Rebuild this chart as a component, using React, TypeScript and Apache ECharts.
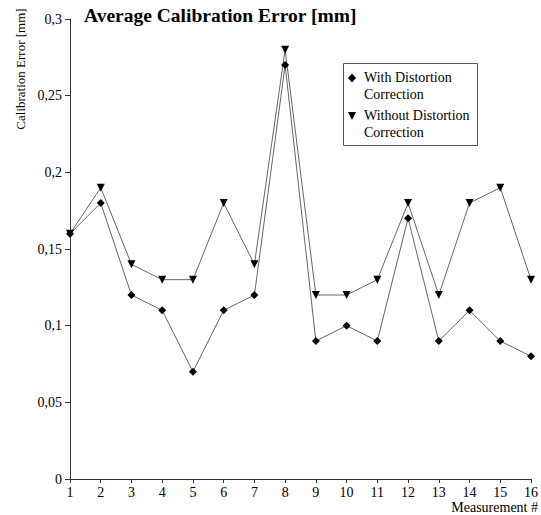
import React, { useEffect, useRef } from "react";
import * as echarts from "echarts";

const measurements = [1, 2, 3, 4, 5, 6, 7, 8, 9, 10, 11, 12, 13, 14, 15, 16];
const withCorrection = [0.16, 0.18, 0.12, 0.11, 0.07, 0.11, 0.12, 0.27, 0.09, 0.1, 0.09, 0.17, 0.09, 0.11, 0.09, 0.08];
const withoutCorrection = [0.16, 0.19, 0.14, 0.13, 0.13, 0.18, 0.14, 0.28, 0.12, 0.12, 0.13, 0.18, 0.12, 0.18, 0.19, 0.13];
const seriesNames = ["With Distortion Correction", "Without Distortion Correction"];

const FONT = "'Liberation Serif', 'Times New Roman', serif";

export default function App() {
  const ref = useRef<HTMLDivElement>(null);
  useEffect(() => {
    const chart = echarts.init(ref.current!, null, { renderer: "svg" });
    const lineStyle = { color: "#666", width: 1 };
    chart.setOption({
      animation: false,
      backgroundColor: "#fff",
      textStyle: { fontFamily: FONT, color: "#000" },
      grid: { left: 70, right: 5, top: 19, bottom: 36 },
      xAxis: {
        type: "value",
        min: 1,
        max: 16,
        interval: 1,
        axisLine: { lineStyle: { color: "#333", width: 1 } },
        axisTick: { show: true, length: 4, lineStyle: { color: "#333" } },
        axisLabel: { color: "#000", fontSize: 14, fontFamily: FONT, margin: 6 },
        splitLine: { show: false },
      },
      yAxis: {
        type: "value",
        min: 0,
        max: 0.3,
        interval: 0.05,
        axisLine: { show: true, lineStyle: { color: "#333", width: 1 } },
        axisTick: { show: true, length: 5, lineStyle: { color: "#333" } },
        axisLabel: {
          color: "#000",
          fontSize: 14,
          fontFamily: FONT,
          margin: 8,
          formatter: (v: number) => (v === 0 ? "0" : String(Math.round(v * 100) / 100).replace(".", ",")),
        },
        splitLine: { show: false },
      },
      series: [
        {
          name: seriesNames[0],
          type: "line",
          data: measurements.map((m, i) => [m, withCorrection[i]]),
          symbol: "diamond",
          symbolSize: 8,
          itemStyle: { color: "#000" },
          lineStyle,
        },
        {
          name: seriesNames[1],
          type: "line",
          data: measurements.map((m, i) => [m, withoutCorrection[i]]),
          symbol: "triangle",
          symbolRotate: 180,
          symbolSize: 8,
          itemStyle: { color: "#000" },
          lineStyle,
        },
      ],
      graphic: [
        {
          type: "text",
          left: 84,
          top: 5,
          style: { text: "Average Calibration Error [mm]", font: `bold 19.5px ${FONT}`, fill: "#000" },
        },
        {
          type: "text",
          x: 20,
          y: 69,
          rotation: Math.PI / 2,
          style: {
            text: "Calibration Error [mm]",
            font: `13px ${FONT}`,
            fill: "#000",
            align: "center",
            verticalAlign: "middle",
          },
        },
        {
          type: "text",
          x: 538,
          y: 507,
          style: { text: "Measurement #", font: `14px ${FONT}`, fill: "#000", align: "right", verticalAlign: "middle" },
        },
        {
          type: "rect",
          shape: { x: 343.5, y: 63.5, width: 134, height: 82 },
          style: { fill: "#fff", stroke: "#555", lineWidth: 1 },
        },
        {
          type: "polygon",
          shape: { points: [[352, 73.5], [356, 78], [352, 82.5], [348, 78]] },
          style: { fill: "#000" },
        },
        {
          type: "text",
          left: 364,
          top: 69,
          style: { text: "With Distortion\nCorrection", font: `14px ${FONT}`, fill: "#000", lineHeight: 17 },
        },
        {
          type: "polygon",
          shape: { points: [[348, 112], [356, 112], [352, 120]] },
          style: { fill: "#000" },
        },
        {
          type: "text",
          left: 364,
          top: 107,
          style: { text: "Without Distortion\nCorrection", font: `14px ${FONT}`, fill: "#000", lineHeight: 17 },
        },
      ],
    });
    return () => chart.dispose();
  }, []);
  return <div ref={ref} style={{ width: 541, height: 515, position: "absolute", left: 0, top: 0 }} />;
}
